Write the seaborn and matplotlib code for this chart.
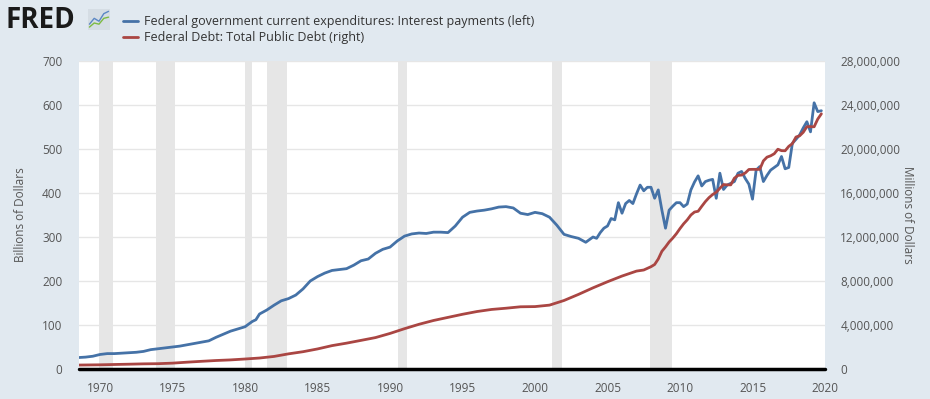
import numpy as np
import matplotlib.pyplot as plt
import matplotlib.ticker as mticker
import pandas as pd
import seaborn as sns

# Intereses pagados por el gobierno federal (miles de millones, eje izquierdo)
anios_interes = [1968.5, 1969.0, 1969.5, 1970.0, 1970.5, 1971.0, 1971.5, 1972.0, 1972.5, 1973.0,
                 1973.5, 1974.0, 1974.5, 1975.0, 1975.5, 1976.0, 1976.5, 1977.0, 1977.5, 1978.0,
                 1978.5, 1979.0, 1979.5, 1980.0, 1980.5, 1980.75, 1981.0, 1981.5, 1982.0, 1982.5,
                 1983.0, 1983.5, 1984.0, 1984.5, 1985.0, 1985.5, 1986.0, 1986.5, 1987.0, 1987.5,
                 1988.0, 1988.5, 1989.0, 1989.5, 1990.0, 1990.5, 1991.0, 1991.5, 1992.0, 1992.5,
                 1993.0, 1993.5, 1994.0, 1994.5, 1995.0, 1995.5, 1996.0, 1996.5, 1997.0, 1997.5,
                 1998.0, 1998.5, 1999.0, 1999.5, 2000.0, 2000.5, 2001.0, 2001.5, 2002.0, 2002.5,
                 2003.0, 2003.5, 2004.0, 2004.25, 2004.5, 2004.75, 2005.0, 2005.25, 2005.5, 2005.75,
                 2006.0, 2006.25, 2006.5, 2006.75, 2007.0, 2007.25, 2007.5, 2007.75, 2008.0, 2008.25,
                 2008.5, 2008.75, 2009.0, 2009.25, 2009.5, 2009.75, 2010.0, 2010.25, 2010.5, 2010.75,
                 2011.0, 2011.25, 2011.5, 2011.75, 2012.0, 2012.25, 2012.5, 2012.75, 2013.0, 2013.25,
                 2013.5, 2013.75, 2014.0, 2014.25, 2014.5, 2014.75, 2015.0, 2015.25, 2015.5, 2015.75,
                 2016.0, 2016.25, 2016.5, 2016.75, 2017.0, 2017.25, 2017.5, 2017.75, 2018.0, 2018.25,
                 2018.5, 2018.75, 2019.0, 2019.25, 2019.5, 2019.75]
interes = [26, 27, 29, 33, 35, 35, 36, 37, 38, 40,
           44, 46, 48, 50, 52, 55, 58, 61, 64, 72,
           79, 86, 91, 96, 108, 112, 125, 134, 145, 155,
           160, 168, 182, 200, 210, 218, 224, 226, 228, 236,
           246, 250, 263, 272, 277, 291, 302, 307, 309, 308,
           311, 311, 310, 325, 345, 356, 359, 361, 364, 368,
           369, 366, 354, 351, 356, 353, 345, 327, 306, 301,
           297, 288, 300, 297, 310, 320, 325, 342, 339, 378,
           354, 376, 383, 376, 398, 418, 405, 413, 413, 388,
           407, 361, 320, 361, 370, 378, 378, 369, 375, 407,
           425, 439, 416, 426, 429, 431, 388, 445, 408, 418,
           422, 426, 445, 449, 433, 420, 386, 452, 460, 426,
           440, 452, 458, 464, 483, 455, 458, 513, 522, 532,
           548, 562, 539, 605, 585, 587]

# Deuda publica total (millones, eje derecho)
anios_deuda = [1968.5, 1970.0, 1971.0, 1972.0, 1973.0, 1974.0, 1975.0, 1976.0, 1977.0, 1978.0,
               1979.0, 1980.0, 1981.0, 1982.0, 1983.0, 1984.0, 1985.0, 1986.0, 1987.0, 1988.0,
               1989.0, 1990.0, 1991.0, 1992.0, 1993.0, 1994.0, 1995.0, 1996.0, 1997.0, 1998.0,
               1999.0, 2000.0, 2001.0, 2002.0, 2003.0, 2004.0, 2005.0, 2006.0, 2007.0, 2007.5,
               2008.0, 2008.25, 2008.5, 2008.75, 2009.0, 2009.25, 2009.5, 2009.75, 2010.0, 2010.25,
               2010.5, 2010.75, 2011.0, 2011.25, 2011.5, 2011.75, 2012.0, 2012.25, 2012.5, 2012.75,
               2013.0, 2013.25, 2013.5, 2013.75, 2014.0, 2014.25, 2014.5, 2014.75, 2015.0, 2015.25,
               2015.5, 2015.75, 2016.0, 2016.25, 2016.5, 2016.75, 2017.0, 2017.25, 2017.5, 2017.75,
               2018.0, 2018.25, 2018.5, 2018.75, 2019.0, 2019.25, 2019.5, 2019.75]
deuda = [358000, 381000, 410000, 437000, 468000, 483000, 533000, 620000, 699000, 772000,
         827000, 908000, 998000, 1142000, 1377000, 1572000, 1823000, 2125000, 2350000, 2602000,
         2857000, 3233000, 3665000, 4065000, 4411000, 4693000, 4974000, 5225000, 5413000, 5526000,
         5656000, 5674000, 5807000, 6228000, 6783000, 7379000, 7933000, 8450000, 8900000, 9000000,
         9300000, 9500000, 10000000, 10700000, 11100000, 11550000, 11900000, 12300000, 12770000, 13200000,
         13560000, 14000000, 14270000, 14340000, 14790000, 15220000, 15580000, 15860000, 16070000, 16430000,
         16770000, 16740000, 16740000, 17350000, 17600000, 17630000, 17820000, 18140000, 18150000, 18150000,
         18150000, 18920000, 19260000, 19380000, 19570000, 19980000, 19850000, 19840000, 20240000, 20490000,
         21090000, 21200000, 21520000, 22030000, 22030000, 22020000, 22720000, 23200000]

# Recesiones (inicio, fin)
recesiones = [(1969.92, 1970.88), (1973.88, 1975.17), (1980.0, 1980.5), (1981.5, 1982.88),
              (1990.54, 1991.17), (2001.17, 2001.88), (2007.92, 2009.46)]

azul = "#4572a7"
rojo = "#aa4643"
fondo = "#e1e9f0"
texto = "#555555"

df_interes = pd.DataFrame({"anio": anios_interes, "valor": interes})
df_deuda = pd.DataFrame({"anio": anios_deuda, "valor": deuda})

sns.set_theme(style="white")
plt.rcParams["font.family"] = ["Open Sans", "DejaVu Sans"]

fig = plt.figure(figsize=(9.3, 3.99), dpi=100, facecolor=fondo)
ax = fig.add_axes([79 / 930, 30 / 399, 746 / 930, 308 / 399])
ax.set_facecolor("white")
ax2 = ax.twinx()

# Franjas de recesion
for ini, fin in recesiones:
    ax.axvspan(ini, fin, color="#e6e6e6", lw=0, zorder=0)

sns.lineplot(data=df_interes, x="anio", y="valor", ax=ax, color=azul, linewidth=2,
             label="Federal government current expenditures: Interest payments (left)", legend=False)
sns.lineplot(data=df_deuda, x="anio", y="valor", ax=ax2, color=rojo, linewidth=2,
             label="Federal Debt: Total Public Debt (right)", legend=False)

ax.set_xlim(1968.55, 2020.0)
ax.set_ylim(0, 700)
ax2.set_ylim(0, 28000000)
ax.set_yticks(range(0, 701, 100))
ax2.set_yticks(range(0, 28000001, 4000000))
ax2.yaxis.set_major_formatter(mticker.FuncFormatter(lambda v, p: f"{int(v):,}"))
ax.set_xticks(range(1970, 2021, 5))

ax.grid(axis="y", color="#e6e6e6", linewidth=1)
ax.set_axisbelow(True)
for a in (ax, ax2):
    for s in a.spines.values():
        s.set_visible(False)
    a.set_xlabel("")
    a.set_ylabel("")

ax.tick_params(axis="x", direction="out", length=6, width=1, color="#ccd6eb",
               labelsize=8.5, labelcolor=texto, pad=3)
ax.tick_params(axis="y", length=0, labelsize=8.5, labelcolor=texto, pad=12)
ax2.tick_params(axis="y", length=0, labelsize=8.5, labelcolor=texto, pad=11)

# Linea base negra
ax.axhline(0, color="black", linewidth=2.5, zorder=5, clip_on=False)

fig.text(20 / 930, 1 - 215 / 399, "Billions of Dollars", rotation=90,
         ha="center", va="center", fontsize=8.5, color=texto)
fig.text(907 / 930, 1 - 215 / 399, "Millions of Dollars", rotation=270,
         ha="center", va="center", fontsize=8.5, color=texto)

# Leyenda
h1, l1 = ax.get_legend_handles_labels()
h2, l2 = ax2.get_legend_handles_labels()
fig.legend(h1 + h2, l1 + l2, loc="upper left", bbox_to_anchor=(112 / 930, 1 - 4 / 399),
           frameon=False, fontsize=9, handlelength=1.2, handletextpad=0.45,
           labelspacing=0.25, labelcolor="#333333")

# Logo FRED
fig.text(6 / 930, 1 - 20 / 399, "FRED", fontsize=20, fontweight="bold", color="#1a1a1a",
         ha="left", va="center")
ax_logo = fig.add_axes([88 / 930, 1 - 30 / 399, 22 / 930, 21 / 399])
ax_logo.set_facecolor("#d5dde4")
ax_logo.plot([0, 1, 2, 3, 4], [1, 2, 1.5, 2.8, 3.2], color="#5b87c4", lw=1)
ax_logo.plot([0, 1, 2, 3, 4], [0.5, 1.2, 1.0, 2.0, 2.2], color="#7dbb42", lw=1)
ax_logo.set_xlim(-0.3, 4.3)
ax_logo.set_ylim(0, 3.6)
ax_logo.set_xticks([])
ax_logo.set_yticks([])
for s in ax_logo.spines.values():
    s.set_visible(False)

fig.savefig("out.png", dpi=100, facecolor=fondo)
